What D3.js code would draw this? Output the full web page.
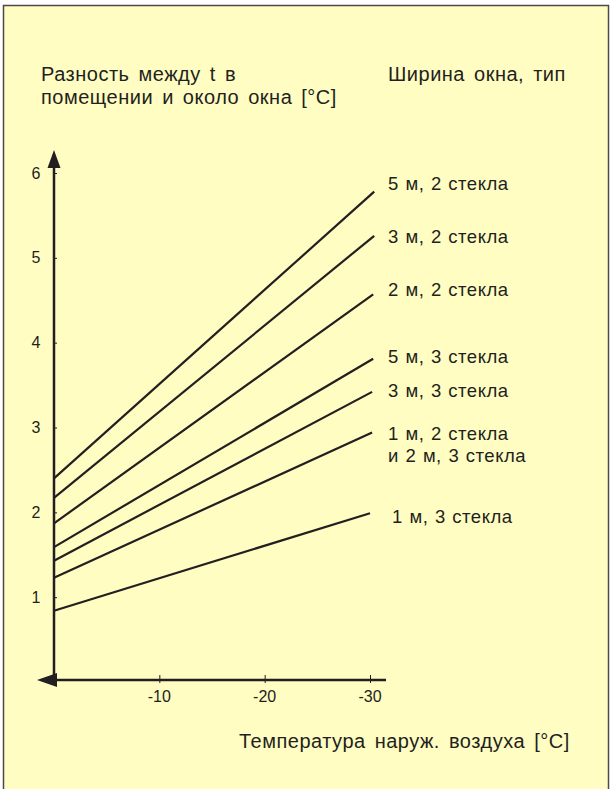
<!DOCTYPE html>
<html>
<head>
<meta charset="utf-8">
<script src="https://cdn.jsdelivr.net/npm/d3@7"></script>
<style>
  body { margin: 0; background: #fff; }
  svg { display: block; font-family: "Liberation Sans", Arial, sans-serif; }
</style>
</head>
<body>
<svg id="chart" width="611" height="789"></svg>
<script>
// lines: value at 0 °C outside and at the far end (about -30 °C)
var seriesNames = ["5 м, 2 стекла", "3 м, 2 стекла", "2 м, 2 стекла", "5 м, 3 стекла",
                   "3 м, 3 стекла", "1 м, 2 стекла", "1 м, 3 стекла"];
var startValues = [2.40, 2.17, 1.87, 1.59, 1.43, 1.23, 0.84];
var endValues = [5.78, 5.26, 4.57, 3.81, 3.42, 2.94, 1.99];
var endTemps = [-30.4, -30.4, -30.3, -30.3, -30.2, -30.2, -30];

var labelLines = [["5 м, 2 стекла"], ["3 м, 2 стекла"], ["2 м, 2 стекла"], ["5 м, 3 стекла"],
                  ["3 м, 3 стекла"], ["1 м, 2 стекла", "и 2 м, 3 стекла"], ["1 м, 3 стекла"]];
var labelValues = [5.86, 5.24, 4.62, 3.83, 3.42, 2.92, 1.94];

var xTicks = [-10, -20, -30];
var yTicks = [1, 2, 3, 4, 5, 6];

var svg = d3.select("#chart");

// frame
svg.append("rect")
  .attr("x", 3.5).attr("y", 5.5)
  .attr("width", 605).attr("height", 790)
  .style("fill", "#fffdc2")
  .style("stroke", "#4a4a4a")
  .style("stroke-width", 1.5);

var x = d3.scaleLinear().domain([0, -30]).range([54, 370]);
var y = d3.scaleLinear().domain([0, 6]).range([682, 173]);

var ink = "#231f20";
var axisY = 680;

// y axis
var yAxis = d3.axisRight(y).tickValues(yTicks).tickSize(3).tickFormat("");
var gy = svg.append("g").attr("transform", "translate(" + x(0) + ",0)").call(yAxis);
gy.select(".domain").remove();
gy.selectAll(".tick line").style("stroke", ink).style("stroke-width", 1);

svg.selectAll(".ylab")
  .data(yTicks)
  .enter()
  .append("text")
  .attr("class", "ylab")
  .attr("x", 36)
  .attr("y", function (d) { return y(d) + 5.5; })
  .attr("text-anchor", "middle")
  .style("font-size", "16px")
  .style("fill", ink)
  .text(function (d) { return d; });

svg.append("line")
  .attr("x1", x(0)).attr("x2", x(0))
  .attr("y1", 165).attr("y2", 685)
  .style("stroke", ink).style("stroke-width", 2.5);
svg.append("path")
  .attr("d", "M" + x(0) + ",150 L" + (x(0) - 6.5) + ",168 L" + (x(0) + 6.5) + ",168 Z")
  .style("fill", ink);

// x axis
var xAxis = d3.axisBottom(x).tickValues(xTicks).tickSize(8).tickFormat("");
var gx = svg.append("g").attr("transform", "translate(0," + (axisY - 5) + ")").call(xAxis);
gx.select(".domain").remove();
gx.selectAll(".tick line").style("stroke", ink).style("stroke-width", 1);

svg.selectAll(".xlab")
  .data(xTicks)
  .enter()
  .append("text")
  .attr("class", "xlab")
  .attr("x", function (d) { return x(d); })
  .attr("y", 702)
  .attr("text-anchor", "middle")
  .style("font-size", "16px")
  .style("fill", ink)
  .text(function (d) { return d; });

svg.append("line")
  .attr("x1", 52).attr("x2", 386)
  .attr("y1", axisY).attr("y2", axisY)
  .style("stroke", ink).style("stroke-width", 2.5);
svg.append("path")
  .attr("d", "M37," + axisY + " L57," + (axisY - 7) + " L57," + (axisY + 7) + " Z")
  .style("fill", ink);

// data lines
var line = d3.line()
  .x(function (d) { return x(d[0]); })
  .y(function (d) { return y(d[1]); });

svg.selectAll(".series")
  .data(seriesNames)
  .enter()
  .append("path")
  .attr("class", "series")
  .attr("d", function (d, i) {
    return line([[0, startValues[i]], [endTemps[i], endValues[i]]]);
  })
  .style("fill", "none")
  .style("stroke", ink)
  .style("stroke-width", 2.2);

// line labels
var lab = svg.selectAll(".slab")
  .data(labelLines)
  .enter()
  .append("text")
  .attr("class", "slab")
  .attr("x", function (d, i) { return i === 6 ? 392 : 388; })
  .attr("y", function (d, i) { return y(labelValues[i]) + 5.5; })
  .style("font-size", "18.5px")
  .style("letter-spacing", "0.5px")
  .style("word-spacing", "1px")
  .style("fill", ink);
lab.selectAll("tspan")
  .data(function (d) { return d; })
  .enter()
  .append("tspan")
  .attr("x", function () { return d3.select(this.parentNode).attr("x"); })
  .attr("dy", function (d, j) { return j === 0 ? 0 : 22.5; })
  .text(function (d) { return d; });

// titles
function title(t, tx, ty) {
  svg.append("text")
    .attr("x", tx).attr("y", ty)
    .style("font-size", "20px")
    .style("letter-spacing", "0.5px")
    .style("word-spacing", "3px")
    .style("fill", ink)
    .text(t);
}
var yTitle = ["Разность между t в", "помещении и около окна [°C]"];
yTitle.forEach(function (t, i) { title(t, 41, 81 + i * 23); });
title("Ширина окна, тип", 388, 81);
title("Температура наруж. воздуха [°C]", 239, 748);
</script>
</body>
</html>
